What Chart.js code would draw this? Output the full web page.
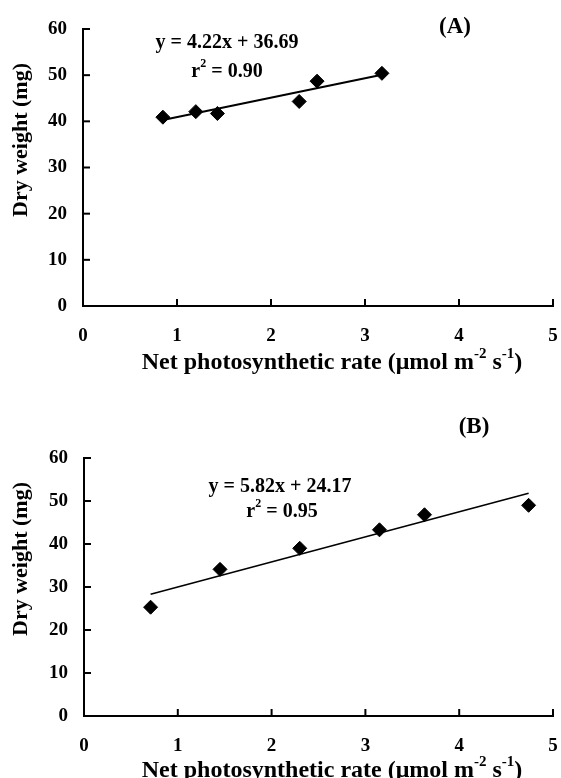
<!DOCTYPE html>
<html>
<head>
<meta charset="utf-8">
<script src="https://cdn.jsdelivr.net/npm/chart.js@4.4.1/dist/chart.umd.min.js"></script>
<style>
  body { margin: 0; background: #fff; }
  canvas { display: block; }
</style>
</head>
<body>
<canvas id="graficoA" width="561" height="380"></canvas>
<canvas id="graficoB" width="561" height="398"></canvas>
<script>
// valores
const rateA = [0.85, 1.20, 1.43, 2.30, 2.49, 3.18];
const weightA = [40.9, 42.1, 41.7, 44.3, 48.7, 50.4];
const fitXA = [0.85, 3.18];
const fitYA = [40.3, 50.1];

const rateB = [0.71, 1.45, 2.30, 3.15, 3.63, 4.74];
const weightB = [25.3, 34.1, 39.0, 43.3, 46.8, 49.0];
const fitXB = [0.71, 4.74];
const fitYB = [28.3, 51.8];

const xTicks = [0, 1, 2, 3, 4, 5];
const yTicks = [0, 10, 20, 30, 40, 50, 60];

const FONTE = "'Liberation Serif', 'Times New Roman', serif";

function pontos(xs, ys) {
  return xs.map((x, i) => ({ x: x, y: ys[i] }));
}

// texto com sobrescritos: partes [texto, sobrescrito?]
function textoRico(ctx, partes, cx, cy, size) {
  let total = 0;
  partes.forEach(p => {
    ctx.font = "bold " + (p[1] ? Math.round(size * 0.62) : size) + "px " + FONTE;
    total += ctx.measureText(p[0]).width;
  });
  let x = cx - total / 2;
  ctx.textAlign = "left";
  ctx.textBaseline = "middle";
  partes.forEach(p => {
    ctx.font = "bold " + (p[1] ? Math.round(size * 0.62) : size) + "px " + FONTE;
    ctx.fillText(p[0], x, p[1] ? cy - size * 0.38 : cy);
    x += ctx.measureText(p[0]).width;
  });
}

function criarGrafico(id, cfg) {
  const textos = {
    id: "textos",
    afterDraw(chart) {
      const ctx = chart.ctx;
      const xs = chart.scales.x, ys = chart.scales.y;
      ctx.save();
      ctx.strokeStyle = "#000";
      ctx.lineWidth = 2;
      // marcas internas dos eixos
      xTicks.forEach(v => {
        const px = xs.getPixelForValue(v);
        ctx.beginPath();
        ctx.moveTo(px, ys.bottom);
        ctx.lineTo(px, ys.bottom - 7);
        ctx.stroke();
      });
      yTicks.forEach(v => {
        const py = ys.getPixelForValue(v);
        ctx.beginPath();
        ctx.moveTo(xs.left, py);
        ctx.lineTo(xs.left + 7, py);
        ctx.stroke();
      });

      ctx.fillStyle = "#000";
      textoRico(ctx, [[cfg.letra, false]], cfg.letraPos[0], cfg.letraPos[1], 23);
      textoRico(ctx, [[cfg.equacao, false]], cfg.eq1[0], cfg.eq1[1], 20);
      textoRico(ctx, [["r", false], ["2", true], [" = " + cfg.r2, false]], cfg.eq2[0], cfg.eq2[1], 20);
      textoRico(ctx, [["Net photosynthetic rate (\u03bcmol m", false], ["-2", true], [" s", false], ["-1", true], [")", false]],
        cfg.xTitulo[0], cfg.xTitulo[1], 24);

      ctx.translate(cfg.yTitulo[0], cfg.yTitulo[1]);
      ctx.rotate(-Math.PI / 2);
      textoRico(ctx, [["Dry weight (mg)", false]], 0, 0, 22);
      ctx.restore();
    }
  };

  new Chart(document.getElementById(id), {
    type: "scatter",
    data: {
      datasets: [
        {
          data: pontos(cfg.rate, cfg.weight),
          pointStyle: "rectRot",
          pointRadius: 7,
          backgroundColor: "#000",
          borderColor: "#000",
          order: 0
        },
        {
          type: "line",
          data: pontos(cfg.fitX, cfg.fitY),
          borderColor: "#000",
          borderWidth: cfg.linha,
          pointRadius: 0,
          fill: false,
          order: 1
        }
      ]
    },
    options: {
      responsive: false,
      animation: false,
      layout: { padding: { top: cfg.top, right: 561 - cfg.right, left: 0, bottom: 0 } },
      plugins: { legend: { display: false }, tooltip: { enabled: false } },
      scales: {
        x: {
          type: "linear",
          min: 0,
          max: 5,
          afterFit: s => { s.height = cfg.altura - cfg.bottom; },
          afterBuildTicks: s => { s.ticks = xTicks.map(v => ({ value: v })); },
          ticks: { padding: 0, color: "#000", font: { family: FONTE, size: 19, weight: "bold" } },
          grid: { display: true, drawOnChartArea: false, drawTicks: true, tickLength: 19, color: "rgba(0,0,0,0)" },
          border: { display: true, color: "#000", width: 2 }
        },
        y: {
          min: 0,
          max: 60,
          afterFit: s => { s.width = cfg.left; },
          afterBuildTicks: s => { s.ticks = yTicks.map(v => ({ value: v })); },
          ticks: { padding: 8, color: "#000", font: { family: FONTE, size: 19, weight: "bold" } },
          grid: { display: false },
          border: { display: true, color: "#000", width: 2 }
        }
      }
    },
    plugins: [textos]
  });
}

criarGrafico("graficoA", {
  rate: rateA, weight: weightA, fitX: fitXA, fitY: fitYA, linha: 2,
  letra: "(A)", equacao: "y = 4.22x + 36.69", r2: "0.90",
  top: 29, bottom: 306, left: 83, right: 553, altura: 380,
  letraPos: [455, 27], eq1: [227, 43], eq2: [227, 72], yTitulo: [21, 140], xTitulo: [332, 363]
});

criarGrafico("graficoB", {
  rate: rateB, weight: weightB, fitX: fitXB, fitY: fitYB, linha: 1.6,
  letra: "(B)", equacao: "y = 5.82x + 24.17", r2: "0.95",
  top: 78, bottom: 336, left: 84, right: 553, altura: 398,
  letraPos: [474, 47], eq1: [280, 107], eq2: [282, 132], yTitulo: [21, 179], xTitulo: [332, 391]
});
</script>
</body>
</html>
